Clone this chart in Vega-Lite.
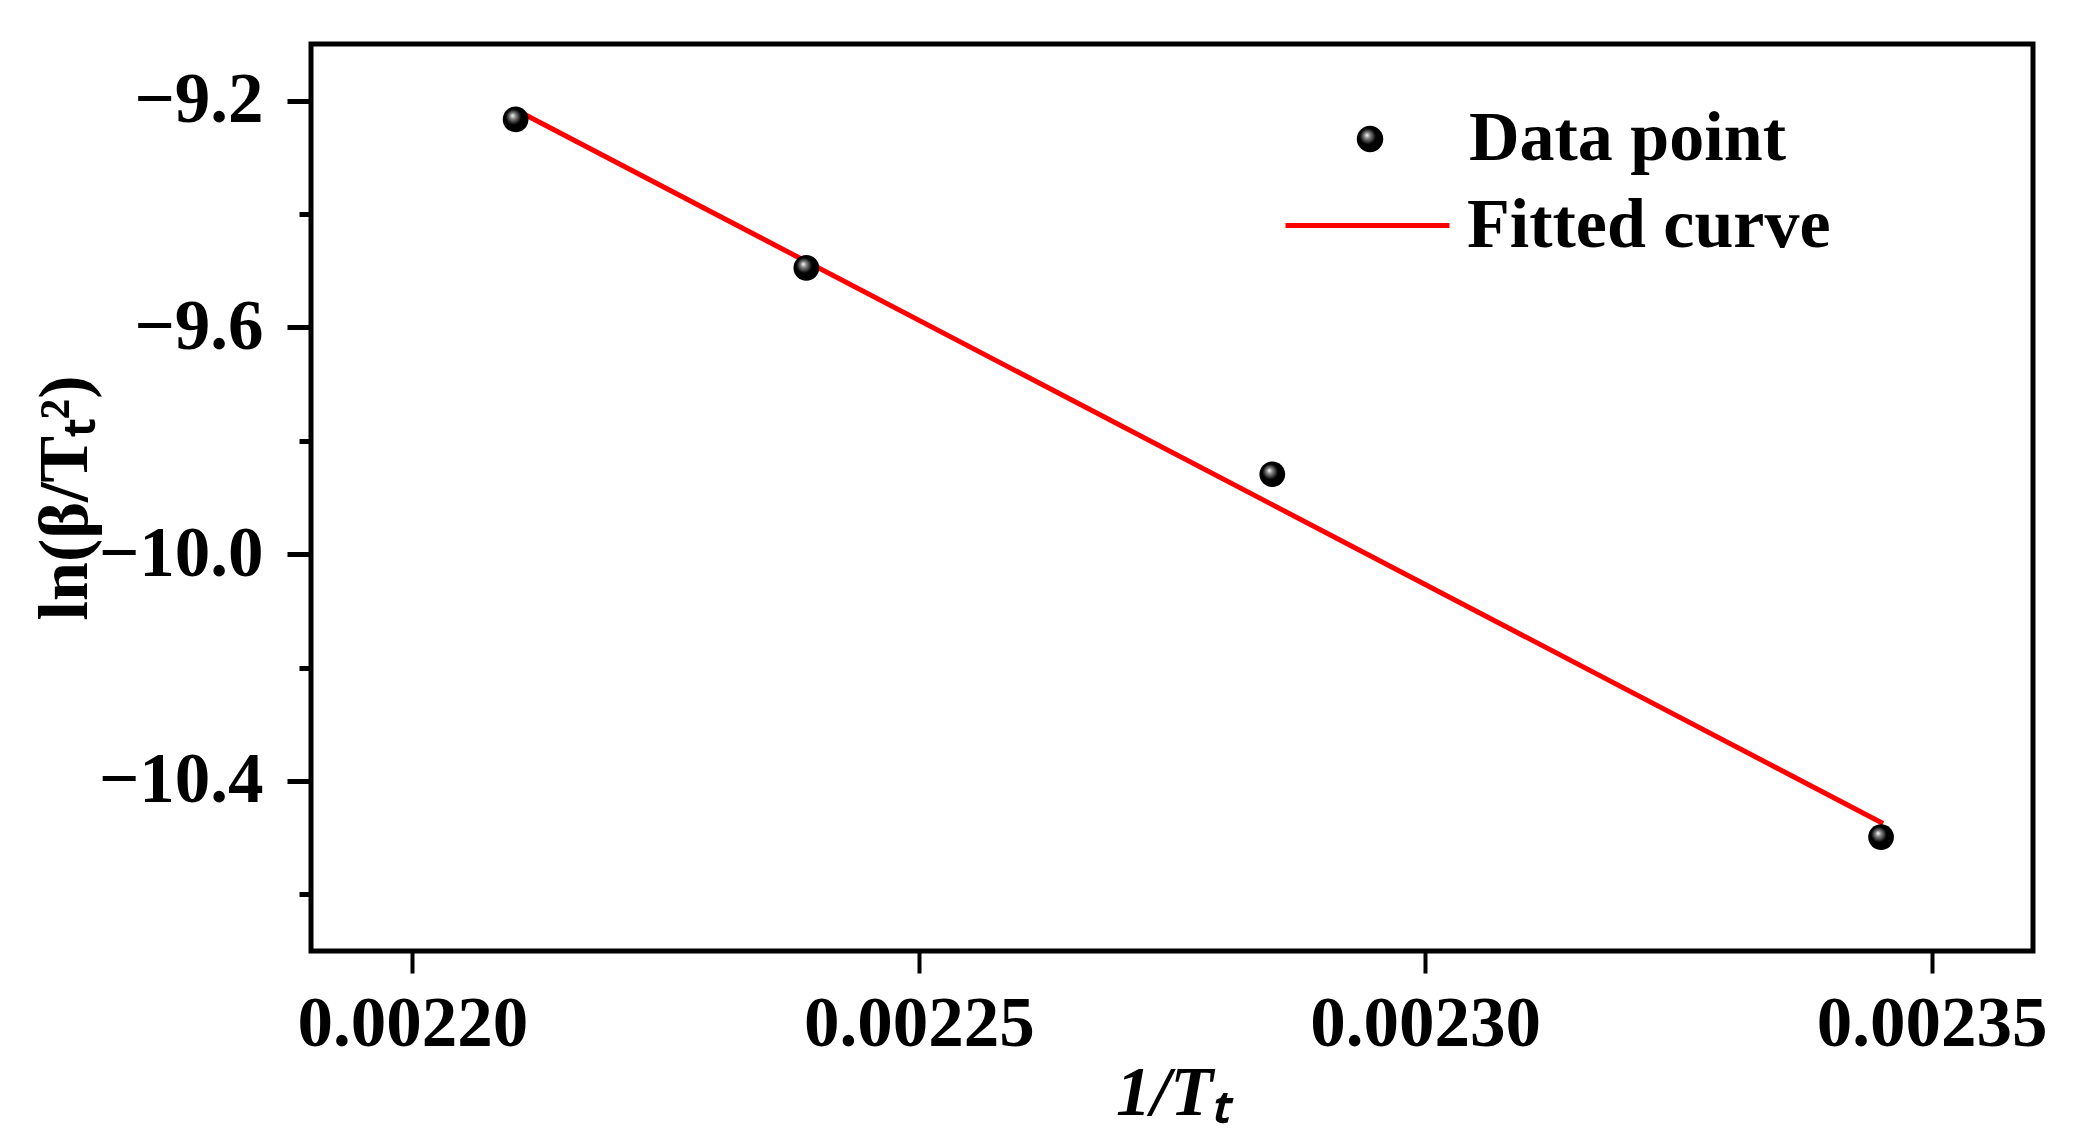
{
  "$schema": "https://vega.github.io/schema/vega-lite/v6.json",
  "width": 1722,
  "height": 907,
  "autosize": {"type": "none"},
  "padding": {"left": 311, "top": 44, "right": 40, "bottom": 180},
  "background": "white",
  "config": {
    "font": "Liberation Serif",
    "view": {"stroke": "black", "strokeWidth": 5},
    "axis": {
      "domain": false,
      "grid": false,
      "labelFont": "Liberation Serif",
      "labelFontSize": 71,
      "labelFontWeight": "bold",
      "labelColor": "black",
      "labelLimit": 0,
      "tickColor": "black",
      "titleFont": "Liberation Serif",
      "titleFontSize": 70,
      "titleFontWeight": "bold",
      "titleColor": "black",
      "titleLimit": 0,
      "labelOverlap": false,
      "labelBound": false,
      "labelFlush": false
    },
    "legend": {
      "labelFont": "Liberation Serif",
      "labelFontSize": 70,
      "labelFontWeight": "bold",
      "labelColor": "black",
      "labelLimit": 0,
      "padding": 0,
      "title": null
    }
  },
  "datasets": {
    "points": [
      {"inv_t": 0.0022102, "ln_ratio": -9.233, "series": "Data point"},
      {"inv_t": 0.0022389, "ln_ratio": -9.495, "series": "Data point"},
      {"inv_t": 0.0022849, "ln_ratio": -9.859, "series": "Data point"},
      {"inv_t": 0.0023450, "ln_ratio": -10.499, "series": "Data point"}
    ],
    "fit": [
      {"inv_t": 0.0022102, "ln_ratio": -9.216, "series": "Fitted curve"},
      {"inv_t": 0.0023452, "ln_ratio": -10.475, "series": "Fitted curve"}
    ]
  },
  "layer": [
    {
      "data": {"name": "fit"},
      "mark": {"type": "line", "strokeWidth": 5},
      "encoding": {
        "x": {
          "field": "inv_t",
          "type": "quantitative",
          "scale": {"domain": [0.00219, 0.00236], "zero": false, "nice": false},
          "axis": {
            "title": "1/Tₜ",
            "titleFontStyle": "italic",
            "titlePadding": 0,
            "values": [0.0022, 0.00225, 0.0023, 0.00235],
            "format": ".5f",
            "tickSize": 22,
            "tickWidth": 4,
            "labelPadding": 16
          }
        },
        "y": {
          "field": "ln_ratio",
          "type": "quantitative",
          "scale": {"domain": [-10.7, -9.1], "zero": false, "nice": false},
          "axis": {
            "title": "ln(β/Tₜ²)",
            "titlePadding": 10,
            "values": [-9.2, -9.4, -9.6, -9.8, -10.0, -10.2, -10.4, -10.6],
            "format": ".1f",
            "labelExpr": "round(datum.value * 10) % 4 === 0 ? datum.label : ''",
            "tickSize": {"condition": {"test": "round(datum.value * 10) % 4 === 0", "value": 24}, "value": 12},
            "tickWidth": 5,
            "labelPadding": 24
          }
        },
        "stroke": {
          "field": "series",
          "type": "nominal",
          "scale": {"domain": ["Fitted curve"], "range": ["#ff0000"]},
          "legend": {
            "orient": "none",
            "legendX": 972,
            "legendY": 97,
            "symbolType": "stroke",
            "symbolSize": 26896,
            "symbolStrokeWidth": 5,
            "labelOffset": 15
          }
        }
      }
    },
    {
      "data": {"name": "points"},
      "mark": {
        "type": "point",
        "filled": true,
        "size": 660,
        "opacity": 1,
        "fill": {
          "gradient": "radial",
          "x1": 0.38, "y1": 0.35, "r1": 0,
          "x2": 0.45, "y2": 0.45, "r2": 0.55,
          "stops": [
            {"offset": 0, "color": "#ffffff"},
            {"offset": 0.2, "color": "#8a8a8a"},
            {"offset": 0.55, "color": "#000000"},
            {"offset": 1, "color": "#000000"}
          ]
        }
      },
      "encoding": {
        "x": {"field": "inv_t", "type": "quantitative"},
        "y": {"field": "ln_ratio", "type": "quantitative"},
        "shape": {
          "field": "series",
          "type": "nominal",
          "scale": {"domain": ["Data point"], "range": ["circle"]},
          "legend": {
            "orient": "none",
            "legendX": 1024,
            "legendY": 60,
            "symbolSize": 700,
            "symbolFillColor": "black",
            "symbolStrokeWidth": 0,
            "labelOffset": 64
          }
        }
      }
    }
  ]
}
